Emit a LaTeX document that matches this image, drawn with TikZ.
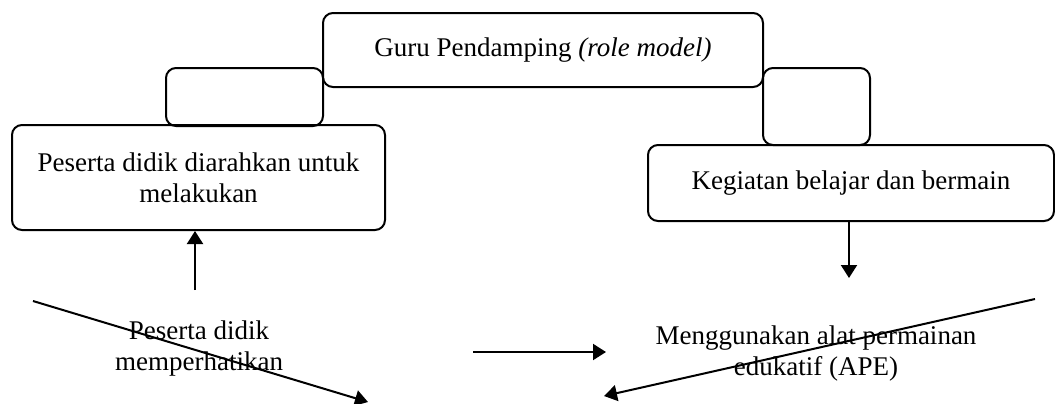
\documentclass[tikz,border=0pt]{standalone}
\usepackage{fontspec}
\setmainfont{Liberation Serif}
\usetikzlibrary{arrows.meta}

\begin{document}
\begin{tikzpicture}[
  x=0.5pt, y=-0.5pt,
  font=\fontsize{13.5}{15.5}\selectfont,
  kotak/.style={draw, line width=1pt, rounded corners=5pt, inner sep=0pt, align=center},
  panah/.style={-{Triangle[length=6.5pt, width=8pt]}, line width=1pt},
  teks/.style={align=center, inner sep=0pt},
]
\useasboundingbox (0,0) rectangle (1055,403);

% =================== kotak atas ===================
\node[kotak, minimum width=220pt, minimum height=37pt] (guru) at (543,50) {Guru Pendamping \textit{(role model)}};
\node[kotak, minimum width=78.5pt, minimum height=29pt] (kecilkiri) at (244.5,97) {};
\node[kotak, minimum width=53.5pt, minimum height=38.5pt] (kecilkanan) at (816.5,106.5) {};

% =================== kotak tengah ===================
\node[kotak, minimum width=186.5pt, minimum height=52.5pt] (kiri) at (198.5,177.5) {Peserta didik diarahkan untuk\\melakukan};
\node[kotak, minimum width=203pt, minimum height=38pt] (kanan) at (851,183) {Kegiatan belajar dan bermain};

% =================== teks bawah ===================
\node[teks] (perhati) at (199,348) {Peserta didik\\memperhatikan};
\node[teks] (ape) at (816,353) {Menggunakan alat permainan\\edukatif (APE)};

% Panah
\coordinate (pangkalkiri) at (195,290);
\coordinate (ujungkanan) at (849,278);
\coordinate (h1) at (473,352);
\coordinate (h2) at (606,352);
\coordinate (d1) at (33,301);
\coordinate (d2) at (368,402);
\coordinate (d3) at (1035,299);
\coordinate (d4) at (604,396);

\draw[panah] (pangkalkiri) -- (pangkalkiri |- kiri.south);
\draw[panah] (ujungkanan |- kanan.south) -- (ujungkanan);
\draw[panah] (h1) -- (h2);
\draw[panah] (d1) -- (d2);
\draw[panah] (d3) -- (d4);

\end{tikzpicture}
\end{document}
